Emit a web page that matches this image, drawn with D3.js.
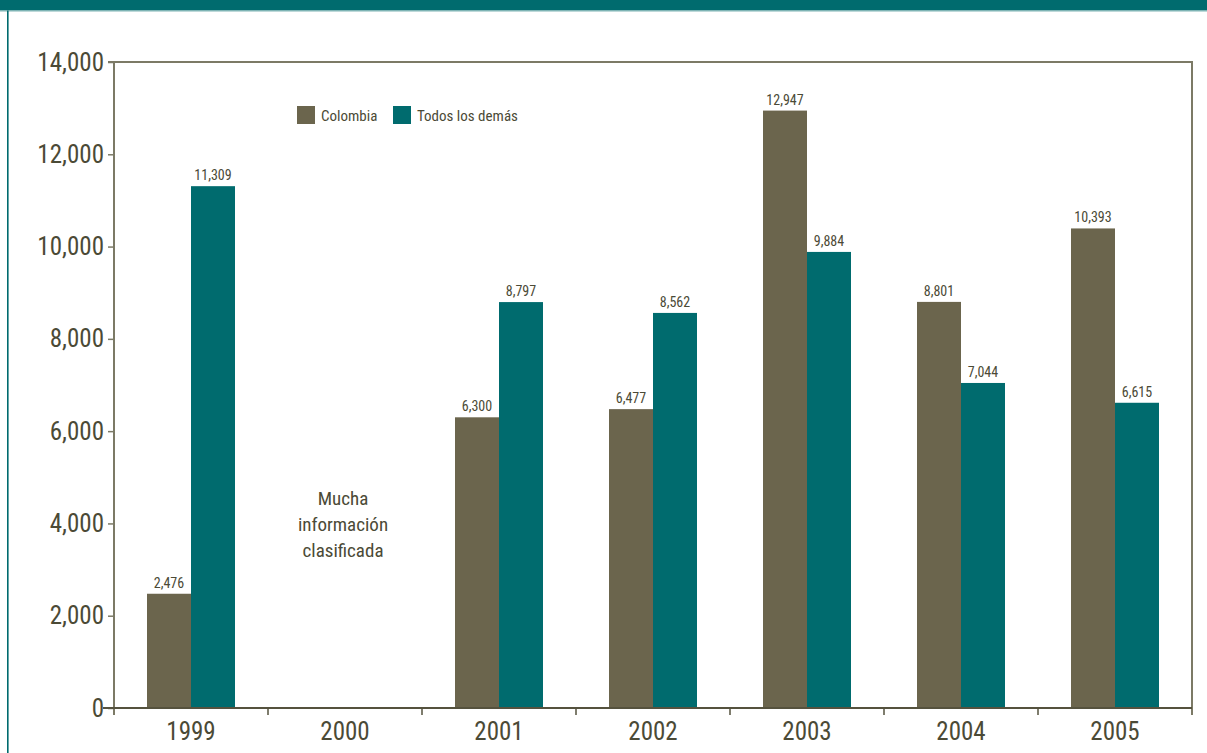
<!DOCTYPE html>
<html>
<head>
<meta charset="utf-8">
<script src="https://cdn.jsdelivr.net/npm/d3@7"></script>
<style>
  html, body { margin: 0; padding: 0; background: #fff; }
  svg { display: block; }
  text { font-family: "Liberation Sans Narrow", "Roboto Condensed", "Liberation Sans", sans-serif; }
</style>
</head>
<body>
<svg id="chart" width="1207" height="753"></svg>
<script>
// Years on the x axis
const years = ["1999", "2000", "2001", "2002", "2003", "2004", "2005"];
// Series values (null = no data published)
const colombia = [2476, null, 6300, 6477, 12947, 8801, 10393];
const todosLosDemas = [11309, null, 8797, 8562, 9884, 7044, 6615];
const seriesNames = ["Colombia", "Todos los demás"];
const yTicks = [0, 2000, 4000, 6000, 8000, 10000, 12000, 14000];
const noteLines = ["Mucha", "información", "clasificada"];

const colors = ["#6b654d", "#006b6e"];
const axisColor = "#7c7a66";
const textColor = "#4b4a36";

const svg = d3.select("#chart");
const W = 1207, H = 753;
const m = { left: 114, right: 1192, top: 62, bottom: 708 };

// page decoration: top band and left rule
svg.append("rect").attr("x", 0).attr("y", 0).attr("width", W).attr("height", 10.5).attr("fill", "#006b6e");
svg.append("rect").attr("x", 0).attr("y", 10.5).attr("width", W).attr("height", 1).attr("fill", "#7fb3b4");
svg.append("rect").attr("x", 7).attr("y", 10.5).attr("width", 1.6).attr("height", H).attr("fill", "#006b6e");

const x = d3.scaleBand().domain(years).range([m.left, m.right]).paddingInner(0).paddingOuter(0);
const y = d3.scaleLinear().domain([0, 14000]).range([m.bottom, m.top]);

// frame: top and right edges
svg.append("line").attr("x1", m.left).attr("x2", m.right).attr("y1", m.top).attr("y2", m.top)
  .attr("stroke", axisColor).attr("stroke-width", 2);
svg.append("line").attr("x1", m.right).attr("x2", m.right).attr("y1", m.top - 1).attr("y2", m.bottom + 7)
  .attr("stroke", axisColor).attr("stroke-width", 2);

// bars
const series = [colombia, todosLosDemas];
const fmt = d3.format(",");
const bw = 44;
series.forEach((vals, s) => {
  const g = svg.append("g");
  years.forEach((yr, i) => {
    const v = vals[i];
    if (v == null) return;
    const cx = x(yr) + x.bandwidth() / 2;
    const bx = s === 0 ? cx - bw : cx;
    g.append("rect").attr("x", bx).attr("y", y(v)).attr("width", bw).attr("height", y(0) - y(v))
      .attr("fill", colors[s]);
    g.append("text").attr("x", bx + bw / 2).attr("y", y(v) - 6)
      .attr("text-anchor", "middle").attr("font-size", 14).attr("fill", textColor)
      .text(fmt(v));
  });
});

// y axis
const yAxis = d3.axisLeft(y).tickValues(yTicks).tickFormat(fmt).tickSize(6).tickPadding(4);
const gy = svg.append("g").attr("transform", `translate(${m.left},0)`).call(yAxis);
gy.select(".domain").attr("stroke", axisColor).attr("stroke-width", 2).attr("d", `M-6,${m.top}H0V${m.bottom + 7}`);
gy.selectAll(".tick line").attr("stroke", axisColor).attr("stroke-width", 1.5);
gy.selectAll(".tick text").attr("font-size", 25).attr("fill", textColor)
  .attr("font-family", "'Liberation Sans Narrow', 'Roboto Condensed', sans-serif");

// x axis
const xAxis = d3.axisBottom(x).tickSize(0).tickPadding(14);
const gx = svg.append("g").attr("transform", `translate(0,${m.bottom})`).call(xAxis);
gx.select(".domain").attr("stroke", "#55523e").attr("stroke-width", 2).attr("d", `M${m.left - 11},0H${m.right}`);
gx.selectAll(".tick text").attr("font-size", 25).attr("fill", textColor).attr("dy", "0.71em")
  .attr("font-family", "'Liberation Sans Narrow', 'Roboto Condensed', sans-serif");
// category separators
const seps = years.map(d => x(d)).concat([m.right]);
gx.selectAll(".sep").data(seps.slice(1, -1)).enter().append("line")
  .attr("x1", d => d).attr("x2", d => d).attr("y1", 0).attr("y2", 7)
  .attr("stroke", "#55523e").attr("stroke-width", 1.5);

// legend
const legend = svg.append("g").attr("transform", "translate(297,106)");
const legX = [0, 96];
seriesNames.forEach((n, i) => {
  legend.append("rect").attr("x", legX[i]).attr("y", 0).attr("width", 18).attr("height", 18).attr("fill", colors[i]);
  legend.append("text").attr("x", legX[i] + 24).attr("y", 15).attr("font-size", 15).attr("fill", textColor).text(n);
});

// note for 2000
const nx = x("2000") + x.bandwidth() / 2 - 2;
svg.append("g").selectAll("text").data(noteLines).enter().append("text")
  .attr("x", nx).attr("y", (d, i) => 505 + i * 26)
  .attr("text-anchor", "middle").attr("font-size", 19).attr("fill", textColor).text(d => d);
</script>
</body>
</html>
